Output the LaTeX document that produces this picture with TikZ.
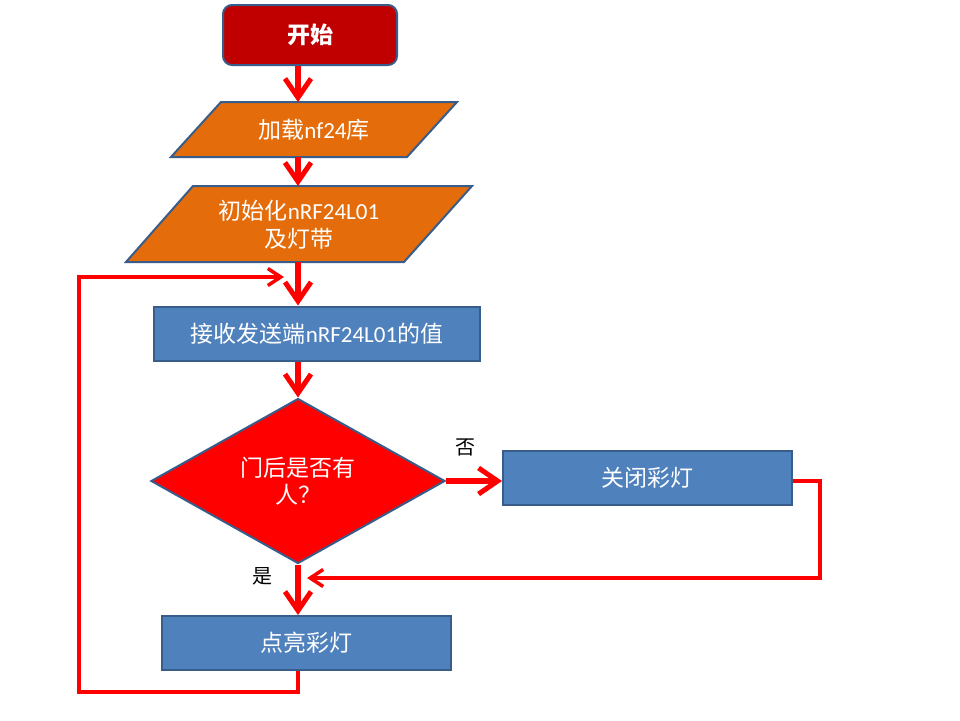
\documentclass[tikz,border=0pt]{standalone}
\usepackage{fontspec}
\setmainfont{Noto Sans CJK SC}
\newfontfamily\cjk{Noto Sans CJK SC}
\newfontfamily\latn{Carlito}
\usetikzlibrary{arrows.meta,shapes.geometric,calc}
\definecolor{bord}{HTML}{385D8A}
\definecolor{startred}{HTML}{C00000}
\definecolor{iofill}{HTML}{E46C0A}
\definecolor{procfill}{HTML}{4F81BD}
\definecolor{arr}{HTML}{FF0000}
\tikzset{
  startbox/.style={draw=bord,line width=2pt,fill=startred,rounded corners=9pt,
    minimum width=174pt,minimum height=60pt,inner sep=0pt,text=white,
    font=\fontsize{23}{28}\selectfont\bfseries},
  iobox/.style={draw=bord,line width=2pt,fill=iofill},
  iotext/.style={text=white,align=center,font=\fontsize{23}{28}\selectfont},
  procbox/.style={draw=bord,line width=2pt,fill=procfill,minimum height=54pt,
    inner sep=0pt,text=white,font=\fontsize{23}{28}\selectfont},
  decbox/.style={diamond,draw=bord,line width=2pt,fill=arr,minimum width=294pt,
    minimum height=165pt,inner sep=0pt,text=white,align=center,
    font=\fontsize{23}{27}\selectfont},
  lbl/.style={text=black,font=\fontsize{20}{24}\selectfont},
  mainarrow/.style={draw=arr,line width=5.5pt,-{Straight Barb[length=19pt,width=26pt,line width=5pt]}},
  looparrow/.style={draw=arr,line width=3.5pt,-{Straight Barb[length=13pt,width=17pt,line width=3.5pt]}},
}
\begin{document}
\begin{tikzpicture}[x=1pt,y=-1pt]
\useasboundingbox[fill=white] (0,0) rectangle (960,720);
% start
\node[startbox] (start) at (310,35) {开始};
% load library (parallelogram)
\path[iobox] (221,102) -- (457,102) -- (407,157) -- (171,157) -- cycle;
\node[iotext] (load) at (314,129.5) {加载{\latn nf24}库};
\coordinate (loadT) at (298,102);
\coordinate (loadB) at (298,157);
% init (parallelogram)
\path[iobox] (193,186) -- (472,186) -- (404,262) -- (126,262) -- cycle;
\node[iotext] (init) at (299,225) {初始化{\latn nRF24L01}\\及灯带};
\coordinate (initT) at (298,186);
\coordinate (initB) at (298,262);
% receive
\node[procbox,minimum width=326pt] (recv) at (317,333.5) {接收发送端{\latn nRF24L01}的值};
% decision
\node[decbox] (dec) at (298,481) {门后是否有\\人？};
% close
\node[procbox,minimum width=289pt] (close) at (647.5,478) {关闭彩灯};
% light
\node[procbox,minimum width=289pt] (light) at (306.5,643) {点亮彩灯};
% labels
\node[lbl] (no) at (465,447) {否};
\node[lbl] (yes) at (262,576) {是};
% loop coordinates
\coordinate (rc) at (820,578);
\coordinate (merge) at (298,578);
\coordinate (lb) at (79,692);
\coordinate (lt) at (79,277);
\coordinate (ltm) at (298,277);
% connectors
\draw[mainarrow] (start.south -| loadT) -- (loadT);
\draw[mainarrow] (loadB) -- (initT);
\draw[mainarrow] (initB) -- (initB |- recv.north);
\draw[mainarrow] (recv.south -| initB) -- (dec.north);
\draw[mainarrow] (dec.east) -- (dec.east -| close.west);
\draw[mainarrow] (dec.south) -- (dec.south |- light.north);
\draw[looparrow] (close.east |- dec.east) -| (rc) -- ($(merge)+(9,0)$);
\draw[looparrow] (light.south -| dec.south) |- (lb) -- (lt) -- ($(ltm)+(-14,0)$);
\end{tikzpicture}
\end{document}
